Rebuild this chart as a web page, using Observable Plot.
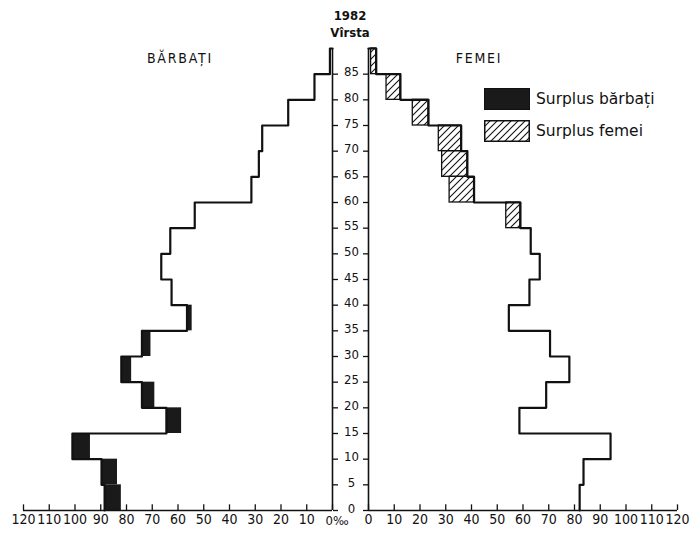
<!DOCTYPE html>
<html>
<head>
<meta charset="utf-8">
<script src="https://cdn.jsdelivr.net/npm/d3@7"></script>
<script src="https://cdn.jsdelivr.net/npm/@observablehq/plot@0.6"></script>
<style>
  body { margin: 0; background: #fff; }
  #wrap { position: relative; width: 698px; height: 536px; font-family: "DejaVu Sans Condensed", "DejaVu Sans", sans-serif; color: #111; }
  .pane { position: absolute; top: 0; }
  .lbl { position: absolute; transform: translate(-50%, -50%); white-space: nowrap; }
  .leg { position: absolute; left: 484px; display: flex; align-items: center; font-family: "DejaVu Sans", sans-serif; font-size: 15.5px; }
  .leg svg { margin-right: 6px; }
</style>
</head>
<body>
<svg width="0" height="0" style="position:absolute">
  <defs>
    <pattern id="hatch" patternUnits="userSpaceOnUse" width="7" height="7">
      <path d="M-1,1 l2,-2 M0,7 l7,-7 M6,8 l2,-2" stroke="#111" stroke-width="1.1"/>
    </pattern>
  </defs>
</svg>
<div id="wrap">
  <div class="pane" id="left" style="left:0px"></div>
  <div class="pane" id="right" style="left:332px"></div>
  <div class="lbl" style="left:350px; top:15px; font-size:13px; font-weight:bold;">1982</div>
  <div class="lbl" style="left:350px; top:32px; font-size:13px; font-weight:bold;">Vîrsta</div>
  <div class="lbl" style="left:180px; top:58px; font-size:14px; letter-spacing:1.8px;">BĂRBAȚI</div>
  <div class="lbl" style="left:479px; top:58px; font-size:14px; letter-spacing:1.8px;">FEMEI</div>
  <div class="leg" style="top:88px;">
    <svg width="46" height="22"><rect x="0.5" y="0.5" width="45" height="21" fill="#1a1a1a" stroke="#111"/></svg>
    <span>Surplus bărbați</span>
  </div>
  <div class="leg" style="top:120px;">
    <svg width="46" height="22"><rect x="0.75" y="0.75" width="44.5" height="20.5" fill="url(#hatch)" stroke="#111" stroke-width="1.5"/></svg>
    <span>Surplus femei</span>
  </div>
</div>
<script>
// Age groups (start of each 5-year group) and their labels
const ageGroups = [0, 5, 10, 15, 20, 25, 30, 35, 40, 45, 50, 55, 60, 65, 70, 75, 80, 85];
const ageLabels = ["0", "5", "10", "15", "20", "25", "30", "35", "40", "45", "50", "55", "60", "65", "70", "75", "80", "85"];
// Per-mille values
const men   = [88.5, 89.7, 101, 64.5, 74, 82, 74, 56.5, 62.5, 66.5, 63, 53.5, 31.5, 28.6, 27.3, 17.2, 7, 1];
const women = [82, 83.5, 94, 58.6, 69, 78, 70.5, 54.5, 62.5, 66.5, 63, 59, 41, 38.4, 36, 23.3, 12.4, 3];
// Value axis ticks
const valueTicks = [0, 10, 20, 30, 40, 50, 60, 70, 80, 90, 100, 110, 120];

const groupSpan = 5;
const rows = ageGroups.map((a, i) => ({age: a, top: a + groupSpan, men: men[i], women: women[i]}));
const topAge = ageGroups[ageGroups.length - 1] + groupSpan;

function outline(values) {
  const pts = ageGroups.map((a, i) => ({a, v: values[i]}));
  pts.push({a: topAge, v: values[values.length - 1]});
  pts.push({a: topAge, v: 0});
  return pts;
}

const ink = "#111";
const common = {
  height: 536, marginTop: 48, marginBottom: 26,
  y: {domain: [0, topAge], axis: null},
  style: {fontFamily: "'DejaVu Sans Condensed', 'DejaVu Sans', sans-serif", fontSize: "14px", color: ink, background: "transparent", overflow: "visible"}
};

const leftPlot = Plot.plot({
  ...common,
  width: 345, marginLeft: 23, marginRight: 13,
  x: {domain: [120, 0], axis: null},
  marks: [
    Plot.rectX(rows.filter(r => r.men > r.women), {x1: "women", x2: "men", y1: "age", y2: "top", fill: "#1a1a1a"}),
    Plot.line(outline(men), {x: "v", y: "a", curve: "step-before", stroke: ink, strokeWidth: 2.2}),
    Plot.ruleX([0], {stroke: ink, strokeWidth: 1.6}),
    Plot.ruleY([0], {stroke: ink, strokeWidth: 1.6}),
    Plot.ruleX(valueTicks, {x: d => d, y1: () => 0, y2: () => 1.1, stroke: ink, strokeWidth: 1.3}),
    Plot.axisY(ageGroups, {anchor: "right", tickSize: 5, tickFormat: () => "", label: null, strokeWidth: 1.3}),
    Plot.text(valueTicks.filter(d => d > 0), {x: d => d, frameAnchor: "bottom", dy: 13, text: d => String(d), fill: ink}),
    Plot.text([0], {x: d => d, frameAnchor: "bottom", dy: 14, dx: -7, textAnchor: "start", text: () => "0‰", fill: ink, fontSize: 13})
  ]
});

const rightPlot = Plot.plot({
  ...common,
  width: 366, marginLeft: 36, marginRight: 21,
  x: {domain: [0, 120], axis: null},
  marks: [
    Plot.rectX(rows.filter(r => r.women > r.men), {x1: "men", x2: "women", y1: "age", y2: "top", fill: "url(#hatch)", stroke: ink, strokeWidth: 1.3}),
    Plot.line(outline(women), {x: "v", y: "a", curve: "step-before", stroke: ink, strokeWidth: 2.2}),
    Plot.ruleX([0], {stroke: ink, strokeWidth: 1.6}),
    Plot.ruleY([0], {stroke: ink, strokeWidth: 1.6}),
    Plot.ruleX(valueTicks, {x: d => d, y1: () => 0, y2: () => 1.1, stroke: ink, strokeWidth: 1.3}),
    Plot.axisY(ageGroups, {anchor: "left", tickSize: 5, tickFormat: () => "", label: null, strokeWidth: 1.3}),
    Plot.text(ageGroups, {y: d => d, frameAnchor: "left", dx: -17, dy: -2, textAnchor: "middle", text: (d, i) => ageLabels[i], fill: ink, fontSize: 13}),
    Plot.text(valueTicks, {x: d => d, frameAnchor: "bottom", dy: 13, text: d => String(d), fill: ink})
  ]
});

document.getElementById("left").appendChild(leftPlot);
document.getElementById("right").appendChild(rightPlot);
</script>
</body>
</html>
